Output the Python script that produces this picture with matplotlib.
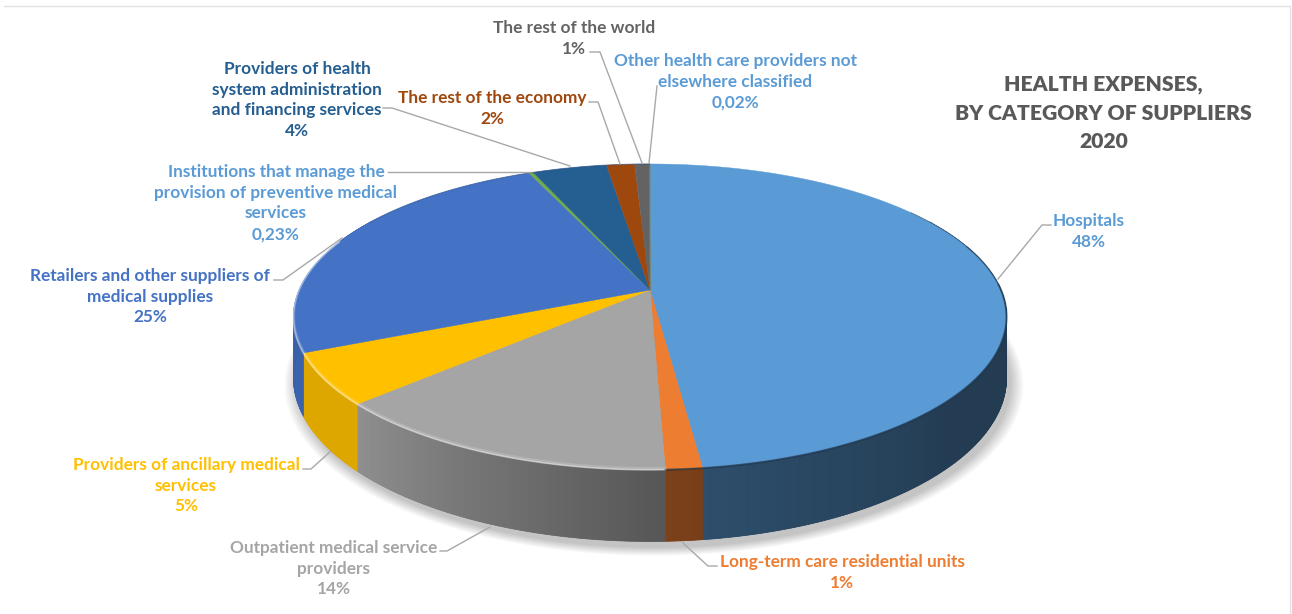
import numpy as np
import matplotlib
matplotlib.use("Agg")
import matplotlib.pyplot as plt
from matplotlib.collections import PolyCollection
from matplotlib.colors import to_rgb
from matplotlib.patches import Polygon

plt.rcParams['font.family'] = ['Lato', 'DejaVu Sans']

# expenses by category of supplier, percent
categories = [
    "Hospitals",
    "Long-term care residential units",
    "Outpatient medical service\nproviders",
    "Providers of ancillary medical\nservices",
    "Retailers and other suppliers of\nmedical supplies",
    "Institutions that manage the\nprovision of preventive medical\nservices",
    "Providers of health\nsystem administration\nand financing services",
    "The rest of the economy",
    "The rest of the world",
    "Other health care providers not\nelsewhere classified",
]
shares = [48, 1.4, 13.7, 5.4, 24.9, 0.23, 4, 1.5, 0.8, 0.02]

slice_colors = ['#5B9BD5', '#ED7D31', '#A5A5A5', '#FFC000', '#4472C4',
                '#70AD47', '#255E91', '#9E480E', '#636363', '#997300']
label_colors = ['#5B9BD5', '#ED7D31', '#A5A5A5', '#FFC000', '#4472C4',
                '#5B9BD5', '#255E91', '#9E480E', '#636363', '#5B9BD5']

# label centres in pixels, first line y
label_pos = [(1089, 221), (842, 562), (334, 548), (186, 465), (150, 276),
             (276, 172), (297, 69), (492, 98), (574, 28), (735, 61)]
# leader lines, label end to pie end
leaders = [
    [(1051, 225), (1042, 225), (998, 279)],
    [(717, 566), (708, 566), (683, 543)],
    [(440, 551), (447, 551), (490, 527)],
    [(303, 469), (311, 469), (331, 451)],
    [(274, 280), (283, 280), (342, 238)],
    [(388, 172), (530, 172)],
    [(383, 108), (392, 108), (570, 166)],
    [(589, 102), (598, 102), (620, 164)],
    [(590, 52), (600, 52), (642, 163)],
    [(657, 86), (649, 163)],
]

# perspective pie geometry, pixels
CX, CY = 650, 290
RX, RY = 351, 148.2
PERSP = 0.176
DEPTH = 59

# wall brightness against the clockwise angle from 12 o'clock
shade_angle = [60, 90, 130, 172, 178, 227, 250, 290, 300]
shade_value = [0.38, 0.38, 0.39, 0.50, 0.52, 0.87, 0.87, 0.82, 0.82]


def project(theta, radius=1.0, drop=0.0):
    x = radius * np.sin(theta)
    y = -radius * np.cos(theta)
    w = 1 - PERSP * y
    return CX + RX * x / w, CY + RY * y / w + drop / w


def pct_label(v):
    if v < 0.5:
        return f"{v:.2f}".replace('.', ',') + "%"
    return f"{v:.0f}%"


fig = plt.figure(figsize=(12.92, 6.14), dpi=100)
ax = fig.add_axes([0, 0, 1, 1])
ax.set_xlim(0, 1292)
ax.set_ylim(614, 0)
ax.axis('off')

# thin frame at top and right
ax.plot([4, 1290, 1290], [6, 6, 614], color='#e2e2e2', lw=1, zorder=0)

edges = np.cumsum([0] + shares) / sum(shares) * 2 * np.pi

# soft shadow under the pie
ring = np.linspace(0, 2 * np.pi, 300)
for grow in np.linspace(1.035, 1.0, 12):
    px, py = project(ring, grow, DEPTH + 5)
    ax.add_patch(Polygon(np.c_[px + 4, py], fc='black', ec='none', alpha=0.018, zorder=1))

# side wall: one solid backing per slice, then narrow strips shaded by angle
quads, quad_colors = [], []
for i, col in enumerate(slice_colors):
    a0, a1 = max(edges[i], np.radians(60)), min(edges[i + 1], np.radians(300))
    if a1 <= a0:
        continue
    n = max(2, int(np.degrees(a1 - a0) * 2))
    steps = np.linspace(a0, a1, n + 1)
    xt, yt = project(steps)
    xb, yb = project(steps, drop=DEPTH)
    mid = np.interp(np.degrees((a0 + a1) / 2), shade_angle, shade_value)
    backing = np.array(to_rgb(col)) * mid
    ax.add_patch(Polygon(np.r_[np.c_[xt, yt], np.c_[xb, yb][::-1]], fc=backing, ec='none', zorder=2))
    for k in range(n):
        quads.append([(xt[k], yt[k]), (xt[k + 1], yt[k + 1]), (xb[k + 1], yb[k + 1]), (xb[k], yb[k])])
        s = np.interp(np.degrees((steps[k] + steps[k + 1]) / 2), shade_angle, shade_value)
        quad_colors.append(np.array(to_rgb(col)) * s)
ax.add_collection(PolyCollection(quads, facecolors=quad_colors, edgecolors=quad_colors,
                                 linewidths=0.5, zorder=2.1))

# top face
for i, col in enumerate(slice_colors):
    t = np.linspace(edges[i], edges[i + 1], max(3, int(np.degrees(edges[i + 1] - edges[i]) * 2)))
    px, py = project(t)
    verts = np.r_[[[CX, CY]], np.c_[px, py]]
    ax.add_patch(Polygon(verts, fc=col, ec=col, lw=0.3, zorder=3))

# bevel along the rim: dark on the right, light at the front left
for start, width in [(55, 0.7), (72, 1.1), (88, 1.6)]:
    t = np.radians(np.linspace(start, 178, 200))
    px, py = project(t)
    ax.plot(px, py, color='#1c3044', lw=width, alpha=0.4, zorder=4)
t = np.radians(np.linspace(178, 290, 200))
px, py = project(t, drop=-1)
ax.plot(px, py, color='white', lw=2.4, alpha=0.16, zorder=4)
px, py = project(t)
ax.plot(px, py, color='white', lw=1.2, alpha=0.4, zorder=4)
t = np.radians(np.linspace(300, 360, 100))
px, py = project(t)
ax.plot(px, py, color='#2b4f86', lw=0.8, alpha=0.5, zorder=4)

# leaders
for pts in leaders:
    xs, ys = zip(*pts)
    ax.plot(xs, ys, color='#a8a8a8', lw=1, zorder=5)

# labels
LINE = 20.7
for name, v, col, (lx, ly) in zip(categories, shares, label_colors, label_pos):
    lines = name.split('\n') + [pct_label(v)]
    for j, txt in enumerate(lines):
        ax.text(lx, ly + j * LINE, txt, color=col, fontsize=12.4, fontweight='bold',
                ha='center', va='center', zorder=6)

title_lines = ["HEALTH EXPENSES,", "BY CATEGORY OF SUPPLIERS", "2020"]
for j, txt in enumerate(title_lines):
    ax.text(1103.5, 84 + j * 29, txt, color='#595959', fontsize=15.2, fontweight=800,
            ha='center', va='center', zorder=6)

fig.savefig('out.png', dpi=100)
plt.close(fig)
